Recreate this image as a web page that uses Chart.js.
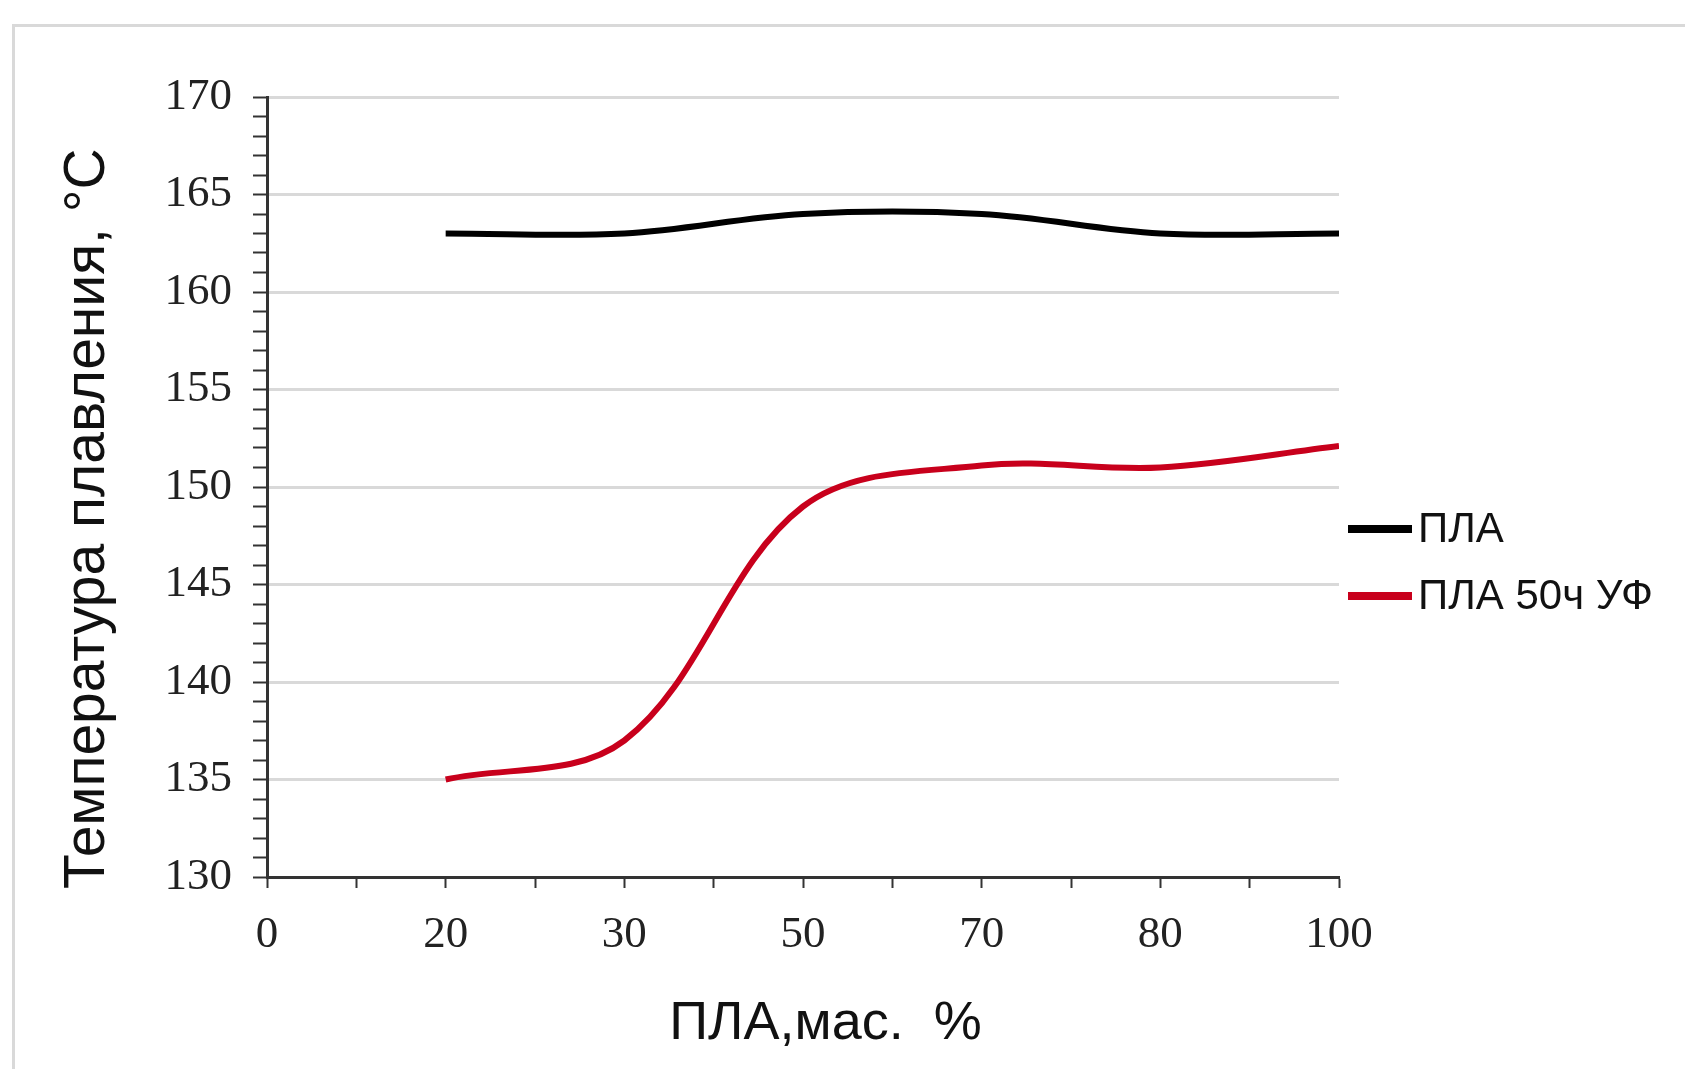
<!DOCTYPE html>
<html>
<head>
<meta charset="utf-8">
<script src="https://cdn.jsdelivr.net/npm/chart.js@4.4.1/dist/chart.umd.min.js"></script>
<style>
  body { margin: 0; background: #fff; }
  #wrap { position: relative; width: 1685px; height: 1069px; overflow: hidden; }
  #frame { position: absolute; left: 12px; top: 24px; width: 1700px; height: 1100px; border: 3px solid #d9d9d9; }
  #chart { position: absolute; left: 0; top: 0; }
</style>
</head>
<body>
<div id="wrap">
  <div id="frame"></div>
  <canvas id="chart" width="1685" height="1069"></canvas>
</div>
<script>
// x categories (evenly spaced, as in the original Excel chart)
const categories = ['0', '20', '30', '50', '70', '80', '100'];
const plaValues = [null, 163, 163, 164, 164, 163, 163];
const plaUvValues = [null, 135, 137, 149, 151.1, 151, 152.1];
const seriesNames = ['ПЛА', 'ПЛА 50ч УФ'];
const seriesColors = ['#000000', '#c8001c'];

const toPoints = vals => vals
  .map((v, i) => ({ x: i, y: v }))
  .filter(p => p.y !== null);

const SANS = '"Liberation Sans", Arial, sans-serif';
const SERIF = '"Liberation Serif", "Times New Roman", serif';
const NBSP = '\u00a0';

// legend drawn at the right, line sample + label like in the picture
const sideLegend = {
  id: 'sideLegend',
  afterDraw(chart) {
    const { ctx, chartArea } = chart;
    const x0 = chartArea.right + 9;
    ctx.save();
    ctx.font = '42px ' + SANS;
    ctx.textBaseline = 'middle';
    chart.data.datasets.forEach((ds, i) => {
      const y = 529 + i * 67;
      ctx.strokeStyle = ds.borderColor;
      ctx.lineWidth = 8;
      ctx.beginPath();
      ctx.moveTo(x0, y);
      ctx.lineTo(x0 + 64, y);
      ctx.stroke();
      ctx.fillStyle = '#111';
      ctx.fillText(ds.label, x0 + 70, y + 1);
    });
    ctx.restore();
  }
};

new Chart(document.getElementById('chart'), {
  type: 'line',
  data: {
    datasets: [
      {
        label: seriesNames[0],
        data: toPoints(plaValues),
        borderColor: seriesColors[0],
        borderWidth: 6,
        pointRadius: 0,
        tension: 0.35
      },
      {
        label: seriesNames[1],
        data: toPoints(plaUvValues),
        borderColor: seriesColors[1],
        borderWidth: 6,
        pointRadius: 0,
        tension: 0.35
      }
    ]
  },
  options: {
    responsive: false,
    animation: false,
    layout: { padding: { left: 54, top: 97, right: 346, bottom: 0 } },
    plugins: {
      legend: { display: false },
      tooltip: { enabled: false }
    },
    scales: {
      x: {
        type: 'linear',
        min: 0,
        max: categories.length - 1,
        afterFit: s => { s.height = 192; },
        ticks: {
          stepSize: 0.5,
          autoSkip: false,
          maxRotation: 0,
          padding: 20,
          color: '#222',
          font: { family: SERIF, size: 45 },
          callback: v => Number.isInteger(v) ? categories[v] : ''
        },
        grid: {
          drawOnChartArea: false,
          tickLength: 11,
          tickWidth: 2,
          tickColor: '#333'
        },
        border: { color: '#333', width: 3 },
        title: {
          display: true,
          text: NBSP.repeat(3) + 'ПЛА,мас.  %',
          color: '#111',
          font: { family: SANS, size: 54 },
          padding: { top: 0, bottom: 12 }
        }
      },
      y: {
        min: 130,
        max: 170,
        afterFit: s => { s.width = 267 - 54; },
        ticks: {
          stepSize: 1,
          autoSkip: false,
          padding: 21,
          color: '#222',
          font: { family: SERIF, size: 45 },
          callback: v => v % 5 === 0 ? v : ''
        },
        grid: {
          color: c => c.tick.value % 5 === 0 ? '#d9d9d9' : 'rgba(0,0,0,0)',
          lineWidth: 3,
          tickLength: 14,
          tickWidth: 2,
          tickColor: '#333'
        },
        border: { color: '#333', width: 3 },
        title: {
          display: true,
          text: 'Температура плавления, °С' + NBSP.repeat(4),
          color: '#111',
          font: { family: SANS, size: 57 },
          padding: 0
        }
      }
    }
  },
  plugins: [sideLegend]
});
</script>
</body>
</html>
